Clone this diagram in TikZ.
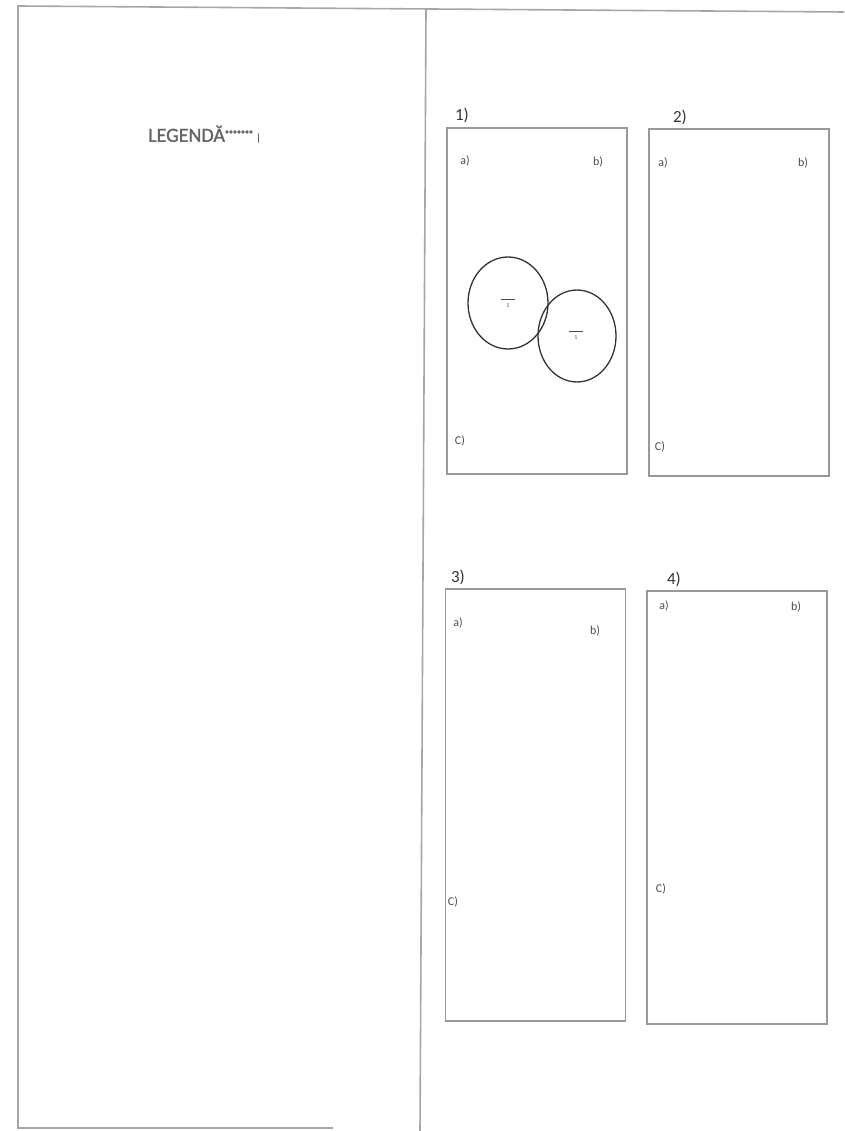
\documentclass[tikz,border=0pt]{standalone}
\usepackage{fontspec}
\setmainfont{Carlito}
\begin{document}
\begin{tikzpicture}[x=1pt,y=-1pt,
  frameline/.style={draw=black!35,line width=1.6pt},
  boxline/.style={draw=black!40,line width=1.6pt},
  lbl/.style={text=black!70,font=\fontsize{12}{14}\selectfont,inner sep=0pt},
  num/.style={text=black!80,font=\fontsize{17}{19}\selectfont,inner sep=0pt},
]
\useasboundingbox (0,0) rectangle (844,1131);
% outer frame
\coordinate (tl) at (18,6);
\coordinate (tr) at (844,12);
\coordinate (bl) at (18,1128);
\coordinate (bb) at (333,1128);
\coordinate (dt) at (426,10);
\coordinate (db) at (420,1131);
\draw[frameline] (tr) -- (tl) -- (bl) -- (bb);
\draw[frameline] (dt) -- (db);
% legend
\node[text=black!60,font=\fontsize{20}{22}\selectfont,inner sep=0pt,anchor=west] (leg) at (148,134) {\addfontfeature{FakeBold=1.5}LEGENDĂ\raisebox{0.8ex}{\fontsize{8}{8}\selectfont •••••••}\,\raisebox{0.1ex}{\fontsize{10}{10}\selectfont |}};
% boxes
\node[boxline,draw,minimum width=180pt,minimum height=346pt,inner sep=0pt] (b1) at (537,301) {};
\node[boxline,draw,minimum width=180pt,minimum height=347pt,inner sep=0pt] (b2) at (739,302.5) {};
\node[boxline,draw,minimum width=180pt,minimum height=432pt,inner sep=0pt] (b3) at (535.5,805) {};
\node[boxline,draw,minimum width=180pt,minimum height=433pt,inner sep=0pt] (b4) at (737,807.5) {};
% numbers
\node[num] (n1) at (462,115) {1)};
\node[num] (n2) at (680,117) {2)};
\node[num] (n3) at (458,577) {3)};
\node[num] (n4) at (674,579) {4)};
% labels box 1
\node[lbl] (a1) at (465,161) {a)};
\node[lbl] (bb1) at (598,162) {b)};
\node[lbl] (c1) at (460,441) {C)};
% box 2
\node[lbl] (a2) at (663,163) {a)};
\node[lbl] (bb2) at (803,163) {b)};
\node[lbl] (c2) at (660,447) {C)};
% box 3
\node[lbl] (a3) at (458,623) {a)};
\node[lbl] (bb3) at (595,631) {b)};
\node[lbl] (c3) at (453,902) {C)};
% box 4
\node[lbl] (a4) at (664,606) {a)};
\node[lbl] (bb4) at (796,607) {b)};
\node[lbl] (c4) at (661,889) {C)};
% circles
\draw[draw=black!80,line width=1.3pt] (508,303) ellipse [x radius=40,y radius=46];
\draw[draw=black!80,line width=1.3pt] (577,336) ellipse [x radius=39,y radius=46];
\node[text=black!70,inner sep=0pt,align=center,font=\fontsize{6}{6}\selectfont] (t1) at (508,303) {\rule{14pt}{1.5pt}\\[1pt]1};
\node[text=black!70,inner sep=0pt,align=center,font=\fontsize{6}{6}\selectfont] (t2) at (576,335) {\rule{14pt}{1.5pt}\\[1pt]1};
\end{tikzpicture}
\end{document}
